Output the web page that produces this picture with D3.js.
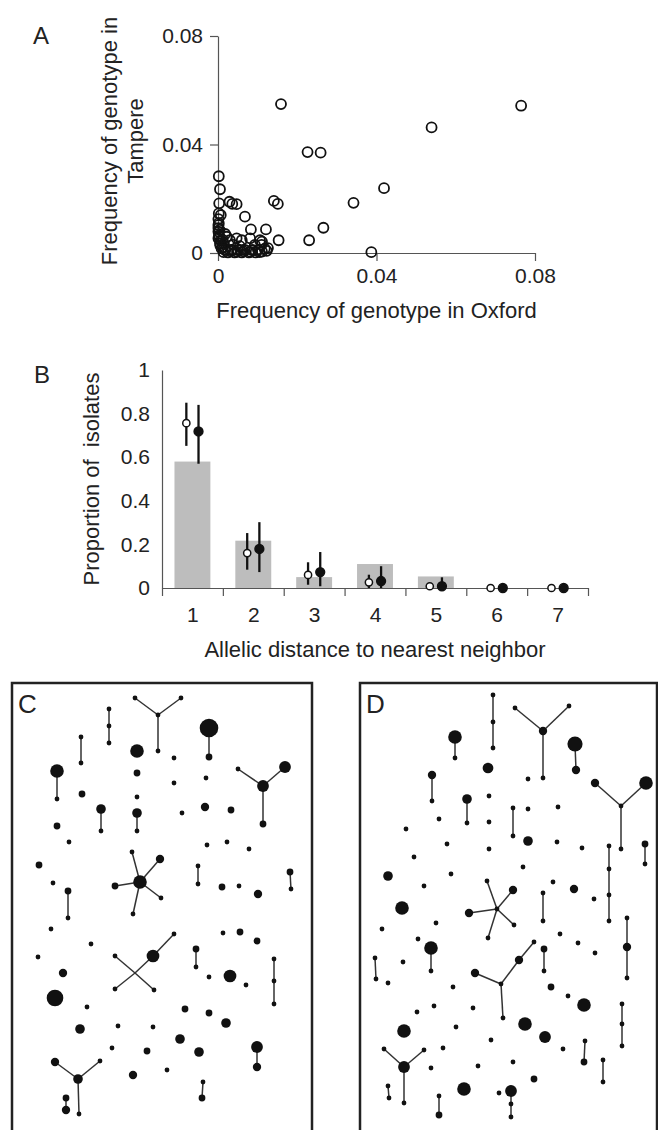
<!DOCTYPE html>
<html>
<head>
<meta charset="utf-8">
<script src="https://cdn.jsdelivr.net/npm/d3@7"></script>
<style>
body { margin: 0; background: #fff; }
text { font-family: "Liberation Sans", Arial, sans-serif; fill: #222; }
</style>
</head>
<body>
<svg id="fig" width="658" height="1130"></svg>
<script>
// ---- panel A: genotype frequencies, Oxford vs Tampere
const oxford = [0.0159, 0.0765, 0.0539, 0.0226, 0.0259, 0.0419, 0.0342, 0.0141, 0.0151, 0.0266, 0.0230, 0.0153, 0.0387,
  0.0121, 0.0083, 0.0068, 0.0111, 0.0111, 0.0123,
  0.0002, 0.0005, 0.0003, 0.0029, 0.0036, 0.0047, 0.0007, 0.0002,
  0.0001, 0.0001, 0.0001, 0.0005, 0.0009, 0.0001, 0.0001, 0.0003, 0.0007,
  0.0081, 0.0106, 0.0047, 0.0030, 0.0060, 0.0038, 0.0055,
  0.0018, 0.0035, 0.0050, 0.0068, 0.0086, 0.0101, 0.0025, 0.0042, 0.0060, 0.0078, 0.0095,
  0.0110, 0.0093, 0.0118, 0.0126, 0.0015, 0.0022, 0.0012,
  0.0014, 0.0032, 0.0048, 0.0065, 0.0082, 0.0105, 0.0002, 0.0004, 0.0002, 0.0006, 0.0012, 0.0018];
const tampere = [0.0549, 0.0543, 0.0463, 0.0372, 0.0370, 0.0239, 0.0185, 0.0192, 0.0181, 0.0093, 0.0047, 0.0047, 0.0003,
  0.0087, 0.0087, 0.0134, 0.0042, 0.0005, 0.0008,
  0.0283, 0.0235, 0.0183, 0.0189, 0.0181, 0.0180, 0.0140, 0.0146,
  0.0103, 0.0079, 0.0054, 0.0036, 0.0017, 0.0125, 0.0092, 0.0065, 0.0045,
  0.0054, 0.0047, 0.0054, 0.0047, 0.0047, 0.0030, 0.0025,
  0.0011, 0.0011, 0.0011, 0.0011, 0.0011, 0.0011, 0.0002, 0.0002, 0.0002, 0.0002, 0.0002,
  0.0030, 0.0030, 0.0016, 0.0018, 0.0033, 0.0060, 0.0022,
  0.0003, 0.0006, 0.0004, 0.0006, 0.0004, 0.0003, 0.0110, 0.0085, 0.0060, 0.0028, 0.0048, 0.0070];
const freqTicks = [0, 0.04, 0.08];

// ---- panel B: allelic distance to nearest neighbour
const distances = [1, 2, 3, 4, 5, 6, 7];
const expectedProp = [0.58, 0.217, 0.05, 0.11, 0.053, 0, 0];
const openProp = [0.756, 0.16, 0.06, 0.026, 0.008, 0, 0];
const openLo = [0.652, 0.084, 0.015, 0, 0, 0, 0];
const openHi = [0.85, 0.252, 0.118, 0.061, 0.023, 0, 0];
const filledProp = [0.718, 0.179, 0.073, 0.032, 0.008, 0, 0];
const filledLo = [0.57, 0.073, 0.008, 0, 0, 0, 0];
const filledHi = [0.84, 0.302, 0.165, 0.1, 0.049, 0, 0];
const propTicks = [0, 0.2, 0.4, 0.6, 0.8, 1];

// ---- panels C and D: networks [id, x, y, isolates]
const nodesC = [
  ["a1",123,15,1],["a2",169,15,1],["a3",146,32,1],["a4",146,68,1],
  ["b1",97,26,1],["b2",97,43,1],["b3",97,60,1],
  ["d1",69,54,1],["d2",69,80,1],
  ["e1",197,45,15],["e2",197,74,2],
  ["f",125,68,8],["g",162,75,1],
  ["h1",45,88,8],["h2",45,116,1],
  ["i",125,90,2],["j",162,100,1],["k",194,95,1],
  ["l1",226,86,1],["l2",251,103,6],["l3",273,84,6],["l4",251,141,2],
  ["m",70,111,2],["n",125,114,1],
  ["o1",89,126,4],["o2",89,148,1],
  ["p1",125,130,4],["p2",125,148,1],
  ["q",170,130,1],["r",193,124,3],["s",219,127,2],
  ["t",45,143,2],["u",57,159,1],["v",195,162,1],["w",215,159,1],["x",237,166,1],["y",27,182,2],
  ["z0",128,199,8],["z1",120,169,1],["z2",148,176,3],["z3",103,203,2],["z4",149,215,1],["z5",121,231,1],
  ["aa1",186,183,1],["aa2",186,201,1],
  ["ab",41,200,1],
  ["ac1",56,208,2],["ac2",56,235,1],
  ["ad",210,204,2],["ae",227,203,1],["af",246,211,3],
  ["ag1",278,189,2],["ag2",279,206,1],
  ["ah",39,246,1],["ai",79,261,1],["aj",26,274,1],["ak",51,290,3],
  ["x0",123,290,0],["x1",103,273,1],["x2",141,273,7],["x3",162,251,1],["x4",103,306,1],["x5",142,307,1],
  ["al1",184,266,2],["al2",184,284,1],
  ["am",211,250,1],["an",228,249,2],["ao",245,258,2],
  ["ap",197,294,1],["aq",218,293,7],["ar",234,302,1],
  ["as1",262,276,1],["as2",262,298,1],["as3",262,321,1],
  ["at",43,315,12],["au",75,324,1],
  ["av",173,326,2],["aw",197,330,2],["ax",214,340,4],
  ["ay",68,346,4],["az",106,343,1],["ba",141,344,1],["bb",168,356,4],
  ["bc",100,365,1],["bd",135,368,2],["be",187,369,4],
  ["bf1",245,364,6],["bf2",245,384,3],
  ["y0",66,396,4],["y1",43,379,3],["y2",88,378,1],["y3",67,431,1],
  ["bg",121,392,3],["bh",155,387,1],
  ["bi1",191,399,1],["bi2",190,415,2],
  ["bj1",54,415,2],["bj2",54,427,3]
];
const linksC = [
  ["a1","a3"],["a2","a3"],["a3","a4"],["b1","b2"],["b2","b3"],["d1","d2"],["e1","e2"],["h1","h2"],
  ["l1","l2"],["l3","l2"],["l2","l4"],["o1","o2"],["p1","p2"],
  ["z0","z1"],["z0","z2"],["z0","z3"],["z0","z4"],["z0","z5"],
  ["aa1","aa2"],["ac1","ac2"],["ag1","ag2"],
  ["x0","x1"],["x0","x2"],["x2","x3"],["x0","x4"],["x0","x5"],
  ["al1","al2"],["as1","as2"],["as2","as3"],["bf1","bf2"],
  ["y1","y0"],["y2","y0"],["y0","y3"],["bi1","bi2"],["bj1","bj2"]
];

const nodesD = [
  ["a1",133,12,1],["a2",133,39,1],["a3",133,65,1],
  ["b1",155,25,1],["b2",209,23,1],["b0",183,48,3],["b3",183,95,1],
  ["c1",95,54,8],["c2",95,75,1],
  ["d1",215,61,10],["d2",216,87,3],
  ["e",128,85,5],
  ["f1",72,92,3],["f2",72,118,1],
  ["g",168,96,1],
  ["h1",235,100,3],["h2",286,100,8],["h0",261,123,1],["h3",261,166,1],
  ["i1",107,116,4],["i2",107,140,1],
  ["j",129,113,1],["k",79,136,1],["l",46,146,1],
  ["m1",153,125,1],["m2",153,153,1],
  ["n",168,126,1],["o",198,124,1],["p",129,139,1],["q",168,158,4],["r",87,161,1],
  ["s",197,159,1],["t",222,165,1],["u",129,166,1],["v",54,174,1],
  ["w1",249,163,1],["w2",249,186,1],["w3",249,212,1],["w4",249,238,1],
  ["x1",285,161,2],["x2",285,181,1],
  ["y",163,184,1],["z",28,193,4],["aa",91,191,1],["ab",64,203,1],["ac",193,199,1],["ad",214,206,3],["ae",234,216,1],
  ["s0",137,226,1],["s1",127,198,1],["s2",153,207,3],["s3",109,230,3],["s4",154,242,1],["s5",128,255,1],
  ["af",42,225,8],
  ["ag1",183,210,1],["ag2",183,238,1],
  ["ah",76,240,1],["ai",22,246,1],["aj",58,256,1],["ak",200,251,1],["al",218,260,1],["am",235,270,1],
  ["an1",267,235,1],["an2",267,264,3],["an3",267,295,1],
  ["ao1",71,265,8],["ao2",71,288,1],
  ["ap1",184,266,2],["ap2",184,288,1],
  ["aq1",15,275,1],["aq2",16,296,1],
  ["ar",43,279,1],
  ["t1",174,259,1],["t2",159,277,3],["t0",141,301,1],["t3",115,290,3],["t4",143,335,1],
  ["as",28,300,1],["at",93,304,1],["au",191,304,2],["av",208,313,1],["aw",224,322,8],
  ["ax",74,323,1],["ay",57,329,1],["az",113,325,1],
  ["ba1",262,321,1],["ba2",262,341,1],["ba3",262,363,1],
  ["bb",165,341,8],["bc",44,348,8],["bd",96,344,1],["be",185,354,6],["bf",131,357,1],
  ["bg1",225,358,1],["bg2",224,379,2],
  ["bh",203,366,1],["bi",83,365,1],
  ["u1",24,366,1],["u2",64,367,1],["u0",44,384,6],["u3",44,420,1],
  ["bj",71,385,1],["bk",118,383,1],["bl",153,379,1],
  ["bm1",243,377,1],["bm2",243,399,1],
  ["bn",174,396,2],["bo",104,406,8],["bp",139,410,1],
  ["bq1",151,408,6],["bq2",151,421,1],["bq3",151,434,1],
  ["br1",28,403,1],["br2",29,415,1],
  ["bs1",79,413,1],["bs2",79,432,2]
];
const linksD = [
  ["a1","a2"],["a2","a3"],["b1","b0"],["b2","b0"],["b0","b3"],["c1","c2"],["d1","d2"],["f1","f2"],
  ["h1","h0"],["h2","h0"],["h0","h3"],["i1","i2"],["m1","m2"],
  ["w1","w2"],["w2","w3"],["w3","w4"],["x1","x2"],
  ["s0","s1"],["s0","s2"],["s0","s3"],["s0","s4"],["s0","s5"],
  ["ag1","ag2"],["an1","an2"],["an2","an3"],["ao1","ao2"],["ap1","ap2"],["aq1","aq2"],
  ["t1","t2"],["t2","t0"],["t3","t0"],["t0","t4"],
  ["ba1","ba2"],["ba2","ba3"],["bg1","bg2"],
  ["u1","u0"],["u2","u0"],["u0","u3"],["bm1","bm2"],["bq1","bq2"],["bq2","bq3"],["br1","br2"],["bs1","bs2"]
];

const svg = d3.select("#fig");
svg.append("rect").attr("width", 658).attr("height", 1130).attr("fill", "#fff");

const styleAxis = (g) => {
  g.selectAll(".domain, .tick line").attr("stroke", "#555").attr("stroke-width", 1.2);
  g.selectAll(".tick text").attr("font-size", 21).attr("font-family", null).attr("fill", "#333");
};

// ================= A
const xA = d3.scaleLinear().domain([0, 0.08]).range([218, 535]);
const yA = d3.scaleLinear().domain([0, 0.08]).range([253, 36]);

svg.append("g")
  .attr("transform", `translate(0, ${yA(0)})`)
  .call(d3.axisBottom(xA).tickValues(freqTicks).tickFormat(d => d).tickSize(8).tickPadding(7).tickSizeOuter(0))
  .call(styleAxis);
svg.append("g")
  .attr("transform", `translate(${xA(0)}, 0)`)
  .call(d3.axisLeft(yA).tickValues(freqTicks).tickFormat(d => d).tickSize(8).tickPadding(7).tickSizeOuter(0))
  .call(styleAxis);

svg.append("g").selectAll("circle")
  .data(oxford.map((o, i) => [o, tampere[i]]))
  .join("circle")
  .attr("cx", d => xA(d[0]))
  .attr("cy", d => yA(d[1]))
  .attr("r", 5)
  .attr("fill", "none")
  .attr("stroke", "#111")
  .attr("stroke-width", 1.8);

svg.append("text")
  .attr("x", (xA.range()[0] + xA.range()[1]) / 2).attr("y", 318)
  .attr("text-anchor", "middle").attr("font-size", 22)
  .text("Frequency of genotype in Oxford");
const yTitleA = svg.append("text")
  .attr("transform", `translate(117, 141) rotate(-90)`)
  .attr("text-anchor", "middle").attr("font-size", 22);
yTitleA.append("tspan").attr("x", 0).attr("y", 0).text("Frequency of genotype in");
yTitleA.append("tspan").attr("x", 0).attr("y", 26).text("Tampere");

svg.append("text").attr("x", 33).attr("y", 44).attr("font-size", 24).text("A");

// ================= B
const xB = d3.scaleLinear().domain([0.5, 7.5]).range([162, 588]);
const yB = d3.scaleLinear().domain([0, 1]).range([588, 370]);
const half = 0.295, off = 0.1;

svg.append("g").selectAll("rect")
  .data(distances)
  .join("rect")
  .attr("x", d => xB(d - half))
  .attr("width", d => xB(d + half) - xB(d - half))
  .attr("y", (d, i) => yB(expectedProp[i]))
  .attr("height", (d, i) => yB(0) - yB(expectedProp[i]))
  .attr("fill", "#bdbdbd");

svg.append("g")
  .attr("transform", `translate(0, ${yB(0)})`)
  .call(d3.axisBottom(xB).tickValues(d3.range(0.5, 8, 1)).tickFormat("").tickSize(8).tickSizeOuter(0))
  .call(styleAxis);
svg.append("g")
  .attr("transform", `translate(0, ${yB(0)})`)
  .call(d3.axisBottom(xB).tickValues(distances).tickFormat(d => d).tickSize(0).tickPadding(19))
  .call(styleAxis)
  .call(g => g.select(".domain").remove());
svg.append("g")
  .attr("transform", `translate(${xB.range()[0]}, 0)`)
  .call(d3.axisLeft(yB).tickValues(propTicks).tickFormat(d => d).tickSize(0).tickPadding(12))
  .call(styleAxis);

const series = [
  { dx: -off, p: openProp, lo: openLo, hi: openHi, r: 3.6, fill: "#fff" },
  { dx: off, p: filledProp, lo: filledLo, hi: filledHi, r: 4.4, fill: "#111" }
];
series.forEach(s => {
  const g = svg.append("g");
  g.selectAll("line")
    .data(distances.filter((d, i) => s.hi[i] > s.lo[i]))
    .join("line")
    .attr("x1", d => xB(d + s.dx)).attr("x2", d => xB(d + s.dx))
    .attr("y1", d => yB(s.lo[d - 1])).attr("y2", d => yB(s.hi[d - 1]))
    .attr("stroke", "#111").attr("stroke-width", 2.3);
  g.selectAll("circle")
    .data(distances)
    .join("circle")
    .attr("cx", d => xB(d + s.dx))
    .attr("cy", (d, i) => yB(s.p[i]))
    .attr("r", s.r)
    .attr("fill", s.fill)
    .attr("stroke", "#111")
    .attr("stroke-width", 1.5);
});

svg.append("text")
  .attr("x", (xB.range()[0] + xB.range()[1]) / 2).attr("y", 657)
  .attr("text-anchor", "middle").attr("font-size", 22)
  .text("Allelic distance to nearest neighbor");
svg.append("text")
  .attr("transform", `translate(99, ${(yB.range()[0] + yB.range()[1]) / 2}) rotate(-90)`)
  .attr("text-anchor", "middle").attr("font-size", 22)
  .attr("xml:space", "preserve")
  .text("Proportion of  isolates");
svg.append("text").attr("x", 34).attr("y", 383).attr("font-size", 24).text("B");

// ================= C and D
const radius = d3.scaleSqrt().domain([0, 15]).range([0, 9.3]);

function drawNetwork(left, width, label, nodes, links) {
  const x = d3.scaleLinear().domain([0, width]).range([left, left + width]);
  const y = d3.scaleLinear().domain([0, 447]).range([683, 1130]);
  const g = svg.append("g");
  const byId = new Map(nodes.map(d => [d[0], d]));

  g.append("rect")
    .attr("x", x(0)).attr("y", y(0))
    .attr("width", x(width) - x(0)).attr("height", y(460) - y(0))
    .attr("fill", "none").attr("stroke", "#222").attr("stroke-width", 2.5);

  g.selectAll("line")
    .data(links)
    .join("line")
    .attr("x1", d => x(byId.get(d[0])[1])).attr("y1", d => y(byId.get(d[0])[2]))
    .attr("x2", d => x(byId.get(d[1])[1])).attr("y2", d => y(byId.get(d[1])[2]))
    .attr("stroke", "#333").attr("stroke-width", 1.5);

  g.selectAll("circle")
    .data(nodes.filter(d => d[3] > 0))
    .join("circle")
    .attr("cx", d => x(d[1])).attr("cy", d => y(d[2]))
    .attr("r", d => radius(d[3]))
    .attr("fill", "#111");

  g.append("text").attr("x", x(6)).attr("y", y(30)).attr("font-size", 26).text(label);
}

drawNetwork(12, 300, "C", nodesC, linksC);
drawNetwork(360, 297, "D", nodesD, linksD);
</script>
</body>
</html>
